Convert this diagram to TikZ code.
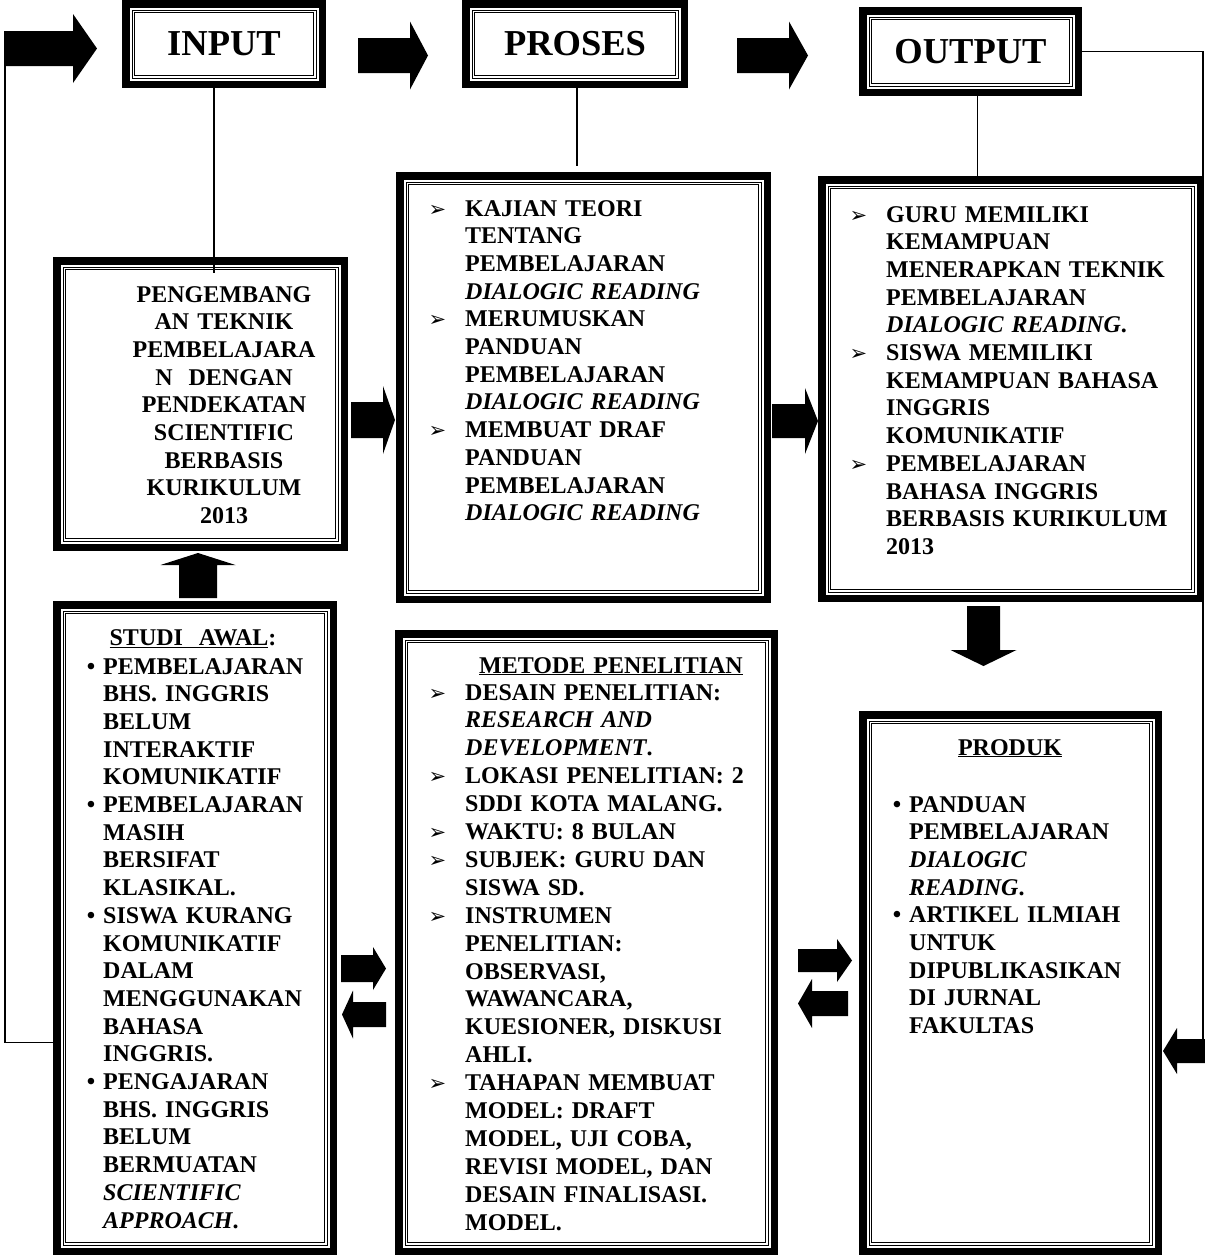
\documentclass[tikz,border=0pt]{standalone}
\usepackage{fontspec}
\setmainfont{Liberation Serif}
\newfontfamily\dejavu{DejaVu Sans}
\usetikzlibrary{calc,positioning}
\newcommand{\arrbul}{\leavevmode\llap{{\dejavu\fontsize{21}{21}\selectfont ➢}\hspace{19pt}}}
\newcommand{\dotbul}{\leavevmode\llap{•\hspace{8pt}}}
% block arrow: tail, rotation, length, half shaft, half head, head length
\newcommand{\blkarr}[6]{\fill[shift={(#1)},rotate=#2] (0,-#4) -- (#3-#6,-#4) -- (#3-#6,-#5)
  -- (#3,0) -- (#3-#6,#5) -- (#3-#6,#4) -- (0,#4) -- cycle;}

\begin{document}
\begin{tikzpicture}[x=1pt,y=-1pt,
  dbox/.style={draw,line width=7.5pt,inner sep=0pt,
    path picture={\foreach \ins in {6.2,9} \draw[line width=.8pt]
      ([shift={(\ins pt,-\ins pt)}]path picture bounding box.north west) rectangle
      ([shift={(-\ins pt,\ins pt)}]path picture bounding box.south east);}},
  ttl/.style={font=\fontsize{36.5}{40}\selectfont\bfseries},
  txt/.style={font=\fontsize{24}{27.7}\selectfont\bfseries,inner sep=0pt,
    text width=320pt,align=left,anchor=base west},
  cline/.style={line width=1.3pt}]
\useasboundingbox (0,0) rectangle (1205,1256);

% top row
\node[dbox,ttl,minimum width=196.5,minimum height=80.5] (in) at (224,44) {INPUT};
\node[dbox,ttl,minimum width=218.5,minimum height=80.5] (pro) at (575,44) {PROSES};
\node[dbox,ttl,minimum width=215.5,minimum height=81.5] (out) at (970.5,51.5) {OUTPUT};

% boxes
\node[dbox,minimum width=287.5,minimum height=286.5] (peng) at (200.5,404) {};
\node[dbox,minimum width=367.5,minimum height=423.5] (pb) at (583.5,387.5) {};
\node[dbox,minimum width=378.5,minimum height=418.5] (ob) at (1011,389) {};
\node[dbox,minimum width=276.5,minimum height=646.5] (st) at (195,928) {};
\node[dbox,minimum width=375.5,minimum height=617.5] (me) at (586.5,942.5) {};
\node[dbox,minimum width=295.5,minimum height=536.5] (pr) at (1010.5,983) {};

% block arrows
\blkarr{4,48.5}{0}{93}{17.5}{34.5}{24}
\blkarr{358,55.5}{0}{70}{17.5}{34}{18}
\blkarr{737,55.5}{0}{71}{17.5}{34}{19}
\blkarr{351,420}{0}{44}{18}{34}{12}
\blkarr{772,421}{0}{46}{17}{33}{13}
\blkarr{198,598}{90}{45}{19}{37.5}{12}
\blkarr{983.5,606}{270}{60}{16.5}{33}{16}
\blkarr{341,968.5}{0}{45}{13.5}{21.5}{13}
\blkarr{386,1014.5}{180}{44}{12.5}{24}{11}
\blkarr{798,960.5}{0}{54}{11.5}{21.5}{15}
\blkarr{848,1003.5}{180}{50}{12.5}{24.5}{14}
\blkarr{1205,1051}{180}{42}{12}{23}{14}
\coordinate (a1) at (5,48.5);
\coordinate (fb) at (1203,1051);

% lines
\coordinate (ij) at ($(in.south)+(-10,0)$);
\draw[cline] (ij) -- ($(ij |- peng.north)+(0,16)$);
\coordinate (pj) at ($(pro.south)+(2,0)$);
\draw[cline] (pj) -- ($(pj |- pb.north)+(0,-6)$);
\coordinate (oj) at ($(out.south)+(7,0)$);
\draw[cline] (oj) -- (oj |- ob.north);
\draw[cline] (out.east) -| (fb);
\draw[cline] ([yshift=-114.5pt]st.west) -| (a1);

% texts
\node[txt,anchor=base,align=center] (peng-t) at (224,302)
  {PENGEMBANG\\AN TEKNIK\\PEMBELAJARA\\N\ \ DENGAN\\PENDEKATAN\\SCIENTIFIC\\BERBASIS\\KURIKULUM\\2013};
\node[txt] (pb-t) at (465,216)
  {\arrbul KAJIAN TEORI\\TENTANG\\PEMBELAJARAN\\\textit{DIALOGIC READING}\\
   \arrbul MERUMUSKAN\\PANDUAN\\PEMBELAJARAN\\\textit{DIALOGIC READING}\\
   \arrbul MEMBUAT DRAF\\PANDUAN\\PEMBELAJARAN\\\textit{DIALOGIC READING}};
\node[txt] (ob-t) at (886,222)
  {\arrbul GURU MEMILIKI\\KEMAMPUAN\\MENERAPKAN TEKNIK\\PEMBELAJARAN\\\textit{DIALOGIC READING}.\\
   \arrbul SISWA MEMILIKI\\KEMAMPUAN BAHASA\\INGGRIS\\KOMUNIKATIF\\
   \arrbul PEMBELAJARAN\\BAHASA INGGRIS\\BERBASIS KURIKULUM\\2013};
\node[txt,anchor=base,align=center] (st-h) at (193,645) {\underline{STUDI\ \ AWAL}:};
\node[txt] (st-t) at (103,674)
  {\dotbul PEMBELAJARAN\\BHS. INGGRIS\\BELUM\\INTERAKTIF\\KOMUNIKATIF\\
   \dotbul PEMBELAJARAN\\MASIH\\BERSIFAT\\KLASIKAL.\\
   \dotbul SISWA KURANG\\KOMUNIKATIF\\DALAM\\MENGGUNAKAN\\BAHASA\\INGGRIS.\\
   \dotbul PENGAJARAN\\BHS. INGGRIS\\BELUM\\BERMUATAN\\\textit{SCIENTIFIC}\\\textit{APPROACH}.};
\node[txt,anchor=base,align=center] (me-h) at (611,673) {\underline{METODE PENELITIAN}};
\node[txt,font=\fontsize{24}{27.9}\selectfont\bfseries] (me-t) at (465,700)
  {\arrbul DESAIN PENELITIAN:\\\textit{RESEARCH AND}\\\textit{DEVELOPMENT}.\\
   \arrbul LOKASI PENELITIAN: 2\\SDDI KOTA MALANG.\\
   \arrbul WAKTU: 8 BULAN\\
   \arrbul SUBJEK: GURU DAN\\SISWA SD.\\
   \arrbul INSTRUMEN\\PENELITIAN:\\OBSERVASI,\\WAWANCARA,\\KUESIONER, DISKUSI\\AHLI.\\
   \arrbul TAHAPAN MEMBUAT\\MODEL: DRAFT\\MODEL, UJI COBA,\\REVISI MODEL, DAN\\DESAIN FINALISASI.\\MODEL.};
\node[txt,anchor=base,align=center] (pr-h) at (1010,755) {\underline{PRODUK}};
\node[txt] (pr-t) at (909,812)
  {\dotbul PANDUAN\\PEMBELAJARAN\\\textit{DIALOGIC}\\\textit{READING}.\\
   \dotbul ARTIKEL ILMIAH\\UNTUK\\DIPUBLIKASIKAN\\DI JURNAL\\FAKULTAS};
\end{tikzpicture}
\end{document}
